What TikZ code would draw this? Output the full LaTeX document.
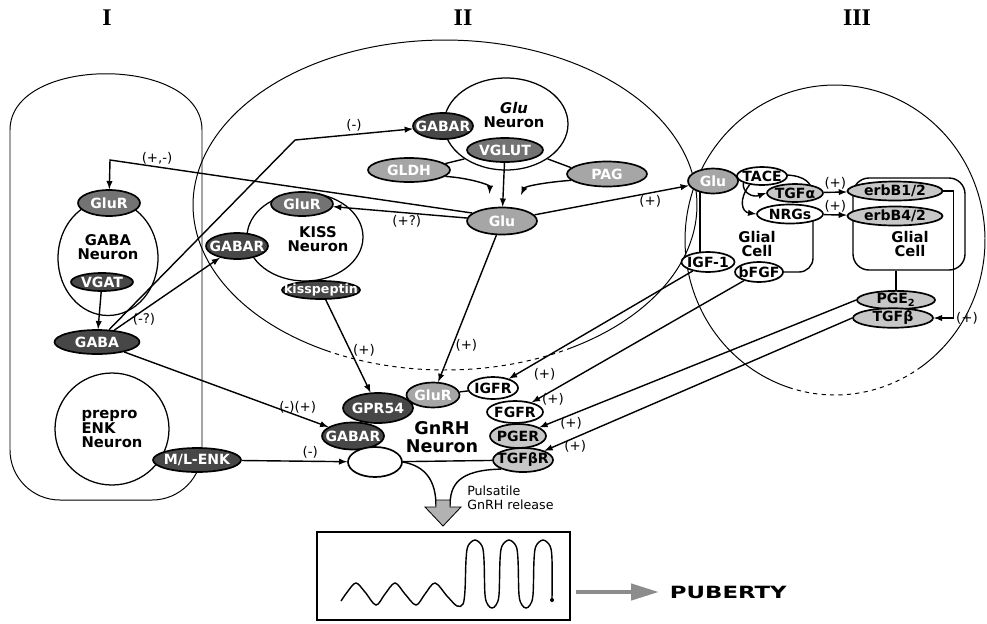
\documentclass[tikz,border=0pt]{standalone}
\usepackage{fontspec}
\setmainfont{DejaVu Sans}
\newfontfamily\romanfont{Liberation Serif}
\usetikzlibrary{shapes.geometric,arrows.meta,calc}
\newcommand{\rl}[1]{\makebox[0pt]{#1}}

\begin{document}
\begin{tikzpicture}[x=0.25mm, y=-0.25mm, >=latex,
  rec/.style={ellipse, draw, line width=1.2pt, inner sep=0pt, font=\fontsize{10}{11}\selectfont\bfseries},
  dark rec/.style={rec, fill=black!72, text=white},
  mid rec/.style={rec, fill=black!55, text=white},
  light rec/.style={rec, fill=black!35, text=white},
  grey rec/.style={rec, fill=black!22},
  white rec/.style={rec, fill=white},
  sz/.style 2 args={minimum width=#1*0.25mm, minimum height=#2*0.25mm},
  body/.style={ellipse, draw, line width=0.9pt, inner sep=0pt},
  cell/.style={font=\fontsize{10.5}{10}\selectfont\bfseries, align=center, inner sep=0pt},
  sign/.style={font=\fontsize{9.5}{10}\selectfont, inner sep=1.5pt},
  link/.style={->, line width=1pt},
  region/.style={line width=0.7pt}]
\useasboundingbox (0,0) rectangle (987,623);

% region titles
\begin{scope}[every node/.style={font=\romanfont\bfseries\fontsize{17}{17}\selectfont}]
\node (t1) at (107,18) {I};
\node (t2) at (463,18) {II};
\node (t3) at (857,18) {III};
\end{scope}

% the three areas
\draw[region] (10,130) .. controls (10,55) and (202,55) .. (202,130)
  [rounded corners=12.5mm] -- (202,500) -- (10,500) -- (10,130);
\draw[region] plot[domain=117:420, samples=150] ({445+252*cos(\x)},{205+165*sin(\x)});
\draw[region, dashed] plot[domain=60:117, samples=40] ({445+252*cos(\x)},{205+165*sin(\x)});
\draw[region] plot[domain=107:415, samples=150] ({835+150*cos(\x)},{240+155*sin(\x)});
\draw[region, dashed] plot[domain=55:107, samples=40] ({835+150*cos(\x)},{240+155*sin(\x)});

% area I
\node[body, sz={100}{115}] (gabaN) at (108,258) {};
\node[cell] (gabaNt) at (108,247) {GABA\\Neuron};
\node[mid rec, sz={62}{26}] (gluR1) at (109,203) {\rl{GluR}};
\node[dark rec, sz={62}{18}] (vgat) at (102,282) {\rl{VGAT}};
\node[dark rec, sz={85}{24}] (gaba) at (97,342) {\rl{GABA}};
\node[body, sz={114}{112}] (enkN) at (112,429) {};
\node[cell, align=left] (enkNt) at (112,429) {prepro\\ENK\\Neuron};
\node[dark rec, sz={88}{24}] (menk) at (197,460) {\rl{M/L-ENK}};

% area II
\node[body, sz={124}{92}] (gluN) at (506,124) {};
\node[cell] (gluNt) at (514,115) {\textit{Glu}\\Neuron};
\node[dark rec, sz={60}{26}] (gabarG) at (443,126) {\rl{GABAR}};
\node[mid rec, sz={76}{24}] (vglut) at (505,150) {\rl{VGLUT}};
\node[light rec, sz={82}{24}] (gldh) at (409,170) {\rl{GLDH}};
\node[light rec, sz={80}{25}] (pag) at (607,174) {\rl{PAG}};
\node[light rec, sz={70}{27}] (glu) at (502,221) {\rl{Glu}};
\node[body, sz={116}{88}] (kissN) at (305,237) {};
\node[cell] (kissNt) at (318,239) {KISS\\Neuron};
\node[mid rec, sz={62}{24}] (gluR2) at (302,204) {\rl{GluR}};
\node[dark rec, sz={62}{26}] (gabarK) at (237,246) {\rl{GABAR}};
\node[dark rec, sz={78}{18}, font=\fontsize{9}{10}\selectfont\bfseries] (kiss) at (321,290) {\rl{kisspeptin}};

% GnRH neuron
\node[light rec, sz={53}{25}] (gluR3) at (433,395) {\rl{GluR}};
\node[dark rec, sz={70}{30}] (gpr) at (378,408) {\rl{GPR54}};
\node[dark rec, sz={62}{27}] (gabarN) at (353,436) {\rl{GABAR}};
\node[white rec, sz={54}{30}] (enkR) at (375,462) {};
\node[white rec, sz={50}{22}] (igfr) at (493,388) {\rl{IGFR}};
\node[white rec, sz={56}{22}] (fgfr) at (515,412) {\rl{FGFR}};
\node[grey rec, sz={56}{24}] (pger) at (518,436) {\rl{PGER}};
\node[grey rec, sz={60}{24}] (tgfbr) at (523,460) {\rl{TGFβR}};
\node[font=\fontsize{12.5}{12.5}\selectfont\bfseries, align=center] (gnrhNt) at (442,437) {GnRH\\Neuron};
\draw[line width=1pt] (gluR3) -- (igfr);
\draw[line width=1pt] (enkR) -- (tgfbr);
\draw[line width=1pt] (enkR.east) .. controls (425,466) and (436,480) .. (436,506);
\draw[line width=1pt] (tgfbr.south west) .. controls (458,470) and (450,485) .. (450,506);
\draw[fill=black!30, line width=0.6pt] (436,500) -- (450,500) -- (450,507) -- (461,507)
  -- (443,526) -- (425,507) -- (436,507) -- cycle;
\node[anchor=west, align=left, font=\fontsize{9}{10}\selectfont, inner sep=0pt] (pulsT) at (467,498) {Pulsatile\\GnRH release};

% pulse record
\node[draw, line width=1pt, sz={253}{88}] (pulseBox) at (443.5,576) {};
\draw[line width=1pt] plot[smooth, tension=0.55] coordinates {(341,601) (348,591) (356,583) (365,592)
  (376,605) (385,594) (395,583) (405,594) (416,605) (425,594) (435,583) (447,596) (457,606) (463,604)
  (465,590) (466,560) (468,546) (475,540) (482,546) (484,560) (485,595) (488,605) (492,608) (496,605)
  (499,595) (500,560) (502,546) (509,540) (516,546) (518,560) (519,595) (522,605) (526,608) (530,605)
  (533,595) (534,560) (536,546) (543,540) (550,546) (552,560) (552,600)};
\fill (552,600) circle (2);
\node[font=\fontsize{12}{12}\selectfont\bfseries, anchor=west] (pub) at (665,592) {\scalebox{1.35}[1]{PUBERTY}};
\draw[black!45, line width=1.1mm, -{Triangle[length=7mm, width=4mm]}]
  ($(pulseBox.east |- pub.west)+(5,0)$) -- ($(pub.west)+(-6,0)$);

% area III
\node[draw, line width=1pt, rounded corners=4mm, sz={112}{92}] (cellR) at (909,224) {};
\draw[line width=1pt] (700,185) -- (700,258);
\draw[line width=1pt, rounded corners=3.5mm] (775,272) -- (813,272) -- (813,210);
\draw[line width=1pt] (778,175) .. controls (800,174) and (810,180) .. (812,190);
\node[cell] (cellLt) at (757,244) {Glial\\Cell};
\node[cell] (cellRt) at (910,244) {Glial\\Cell};
\node[light rec, sz={50}{25}] (glu3) at (713,181) {\rl{Glu}};
\node[white rec, sz={50}{18}] (tace) at (762,176) {\rl{TACE}};
\node[grey rec, sz={56}{18}] (tgfa) at (795,193) {\rl{TGFα}};
\node[white rec, sz={66}{19}] (nrg) at (790,214) {\rl{NRGs}};
\node[grey rec, sz={95}{19}] (erb12) at (895,191) {\rl{erbB1/2}};
\node[grey rec, sz={95}{19}] (erb42) at (895,216) {\rl{erbB4/2}};
\node[white rec, sz={53}{20}] (igf) at (708,262) {\rl{IGF-1}};
\node[white rec, sz={48}{20}] (bfgf) at (759,272) {\rl{bFGF}};
\node[grey rec, sz={78}{17}] (pge) at (896,300) {\rl{PGE\textsubscript{2}}};
\node[grey rec, sz={80}{18}] (tgfb) at (893,318) {\rl{TGFβ}};
\draw[line width=1pt] (pge.north) -- (pge.north |- cellR.south);

% connections
\draw[link] (vgat) -- (gaba);
\draw[link] (vglut) -- (glu);
\draw[line width=1pt] (gldh.10) -- (gluN.220);
\draw[line width=1pt] (pag.170) -- (gluN.320);
\draw[link, shorten >=3.5mm] (gldh.-10) .. controls (470,178) and (490,185) .. (glu.135);
\draw[link, shorten >=3.5mm] (pag.190) .. controls (548,182) and (525,186) .. (glu.45);
\draw[link] (glu) -- (gluR2) node[sign, pos=0.45, below] {(+?)};
\coordinate (bendA) at (110,160);
\draw[link] (glu.165) -- node[sign, pos=0.87, above] {(+,-)} (bendA) -- (gluR1);
\draw[link] (glu) -- (glu3) node[sign, pos=0.75, below] {(+)};
\draw[link] (glu) -- (gluR3) node[sign, pos=0.75, right] {(+)};
\draw[link] (kiss) -- (gpr) node[sign, pos=0.55, right] {(+)};
\coordinate (bendB) at (295,140);
\draw[link] (gaba) -- (bendB) -- node[sign, above] {(-)} (gabarG);
\draw[link] (gaba) -- (gabarK) node[sign, pos=0.15, right] {(-?)};
\draw[link] (gaba) -- (gabarN) node[sign, pos=0.85, above] {(-)(+)};
\draw[link] (menk) -- (enkR) node[sign, pos=0.65, above] {(-)};
\draw[link] (tace.200) .. controls (742,192) and (752,198) .. (tgfa.west);
\draw[link] (tace.215) .. controls (738,200) and (742,212) .. (nrg.west);
\draw[link] (tgfa) -- (erb12) node[sign, midway, above] {(+)};
\draw[link] (nrg) -- (erb42) node[sign, midway, above] {(+)};
\draw[link] (erb12.east) -- ++(10,0) |- (tgfb.east) node[sign, pos=0.5, right] {(+)};
\draw[link] (igf) -- (igfr) node[sign, pos=0.88, anchor=north west] {(+)};
\draw[link] (bfgf) -- (fgfr) node[sign, pos=0.9, anchor=north] {(+)};
\draw[link] (pge.west) -- (pger) node[sign, pos=0.9, anchor=north] {(+)};
\draw[link] (tgfb.west) -- (tgfbr) node[sign, pos=0.9, anchor=north] {(+)};
\end{tikzpicture}
\end{document}
